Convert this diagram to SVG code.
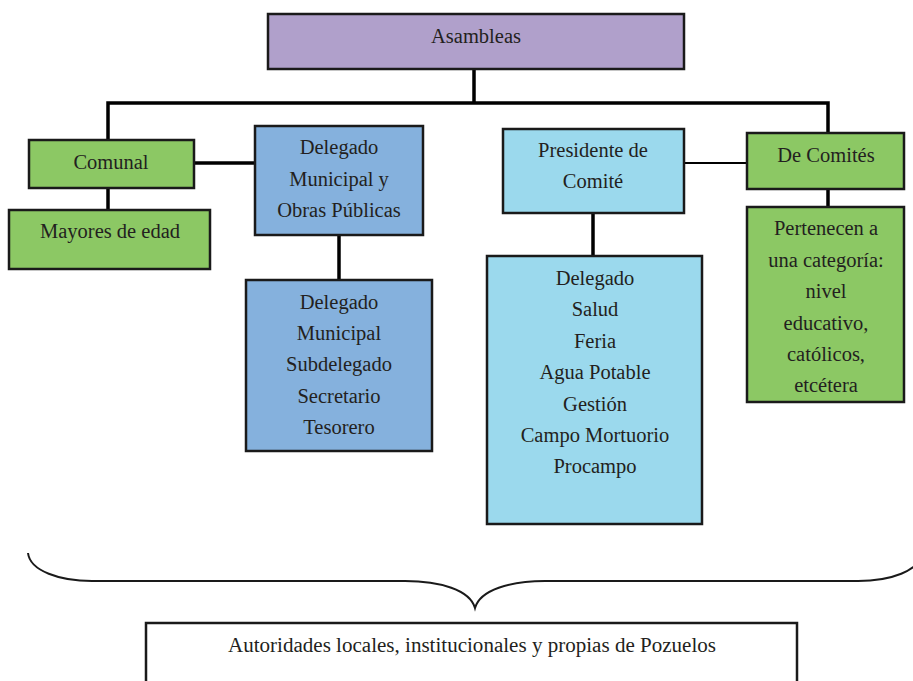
<svg xmlns="http://www.w3.org/2000/svg" width="913" height="681" viewBox="0 0 913 681">
<style>
text{font-family:"Liberation Serif","Times New Roman",serif;font-size:20.5px;fill:#231f20;text-anchor:middle}
.box{stroke:#1a1a1a;stroke-width:2.5}
.purple{fill:#b0a0cb}
.green{fill:#8cc864}
.blue{fill:#85b1dd}
.lblue{fill:#9bd9ed}
.con{stroke:#000;stroke-width:3.5;fill:none}
.thin{stroke:#000;stroke-width:2;fill:none}
</style>
<rect width="913" height="681" fill="#fff"/>
<g id="connectors">
<path class="con" d="M474,69 V103 M108,140 V103 H828 V133"/>
<path class="con" d="M108,188 V210"/>
<path class="con" d="M194,163 H255"/>
<path class="con" d="M339,235 V280"/>
<path class="con" d="M593,213 V256"/>
<path class="thin" d="M684,163 H747"/>
<path class="con" d="M828,189 V207"/>
</g>
<g id="asambleas"><rect class="box purple" x="268" y="14" width="416" height="55"/><text x="476" y="43">Asambleas</text></g>
<g id="comunal"><rect class="box green" x="29" y="140" width="165" height="48"/><text x="111" y="169">Comunal</text></g>
<g id="mayores"><rect class="box green" x="9" y="210" width="201" height="59"/><text x="110" y="238">Mayores de edad</text></g>
<g id="delegado-municipal"><rect class="box blue" x="255" y="126" width="168" height="109"/><text x="339" y="154">Delegado</text><text x="339" y="186">Municipal y</text><text x="339" y="217">Obras Públicas</text></g>
<g id="cargos-municipales"><rect class="box blue" x="246" y="280" width="186" height="171"/><text x="339" y="309">Delegado</text><text x="339" y="340">Municipal</text><text x="339" y="371">Subdelegado</text><text x="339" y="403">Secretario</text><text x="339" y="434">Tesorero</text></g>
<g id="presidente"><rect class="box lblue" x="503" y="129" width="181" height="84"/><text x="593" y="157">Presidente de</text><text x="593" y="188">Comité</text></g>
<g id="comites-lista"><rect class="box lblue" x="487" y="256" width="215" height="268"/><text x="595" y="285">Delegado</text><text x="595" y="316">Salud</text><text x="595" y="348">Feria</text><text x="595" y="379">Agua Potable</text><text x="595" y="411">Gestión</text><text x="595" y="442">Campo Mortuorio</text><text x="595" y="473">Procampo</text></g>
<g id="de-comites"><rect class="box green" x="747" y="133" width="157" height="56"/><text x="826" y="162">De Comités</text></g>
<g id="pertenecen"><rect class="box green" x="747" y="207" width="157" height="195"/><text x="826" y="235">Pertenecen a</text><text x="826" y="267">una categoría:</text><text x="826" y="298">nivel</text><text x="826" y="330">educativo,</text><text x="826" y="361">católicos,</text><text x="826" y="392">etcétera</text></g>
<g id="brace"><path d="M28,553 C30,571 60,581 92,581 L405,581 C440,581 470,590 475,608 C480,590 510,581 545,581 L858,581 C890,581 920,571 922,553" fill="none" stroke="#1a1a1a" stroke-width="2"/></g>
<g id="autoridades"><rect x="146" y="623" width="651" height="70" fill="#fff" stroke="#1a1a1a" stroke-width="2.5"/><text x="472" y="652" font-size="21" textLength="488" lengthAdjust="spacingAndGlyphs">Autoridades locales, institucionales y propias de Pozuelos</text></g>
</svg>
